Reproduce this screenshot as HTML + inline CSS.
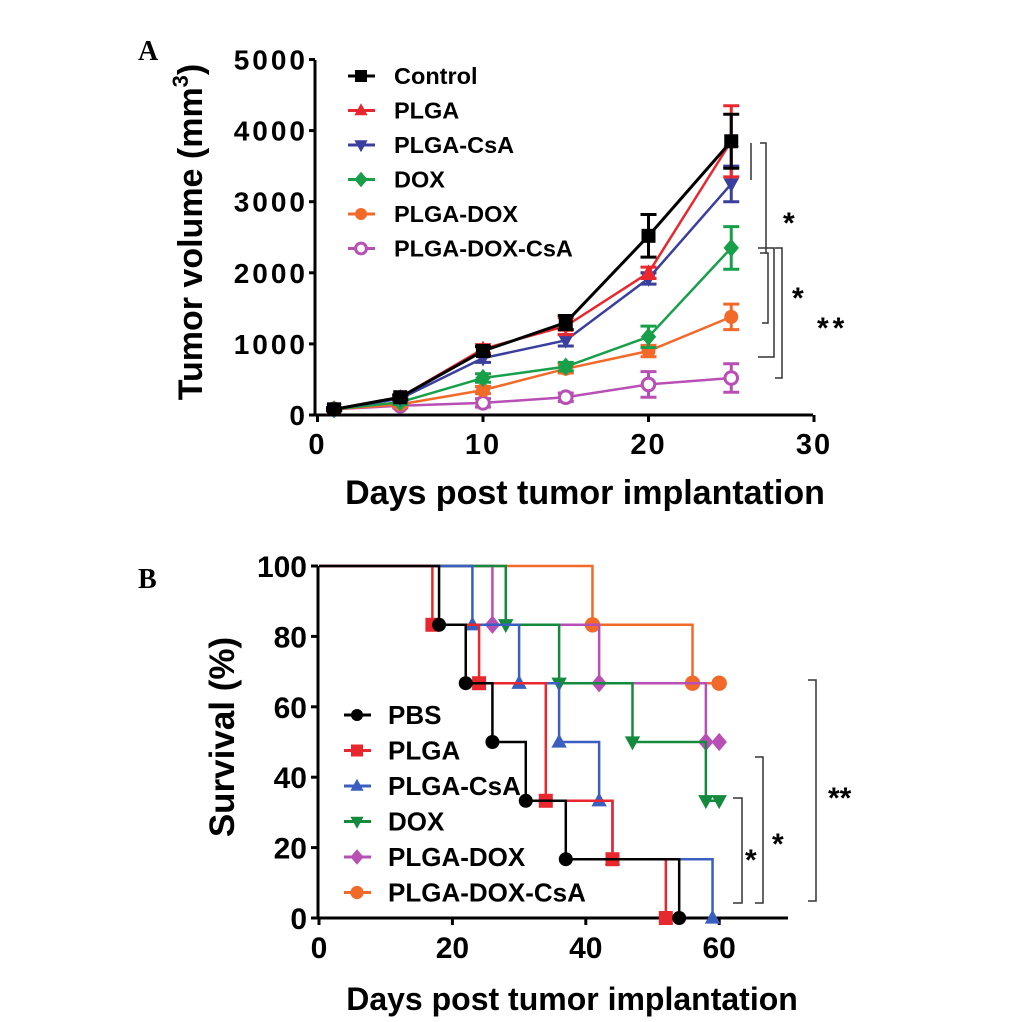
<!DOCTYPE html>
<html><head><meta charset="utf-8"><style>
body{margin:0;background:#fff}
svg{display:block;font-family:"Liberation Sans",Arial,sans-serif}
</style></head><body>
<svg id="fig" width="1033" height="1022" viewBox="0 0 1033 1022" xmlns="http://www.w3.org/2000/svg">
<rect width="1033" height="1022" fill="#fff"/>
<text x="138" y="60" font-family="Liberation Serif" font-weight="bold" font-size="28">A</text>
<text x="138" y="588" font-family="Liberation Serif" font-weight="bold" font-size="28">B</text>
<g id="A"></g>
<g id="B"></g>
</svg>
<script>
// ---- Panel A data ----
const daysA = [1, 5, 10, 15, 20, 25];
const namesA = ["Control","PLGA","PLGA-CsA","DOX","PLGA-DOX","PLGA-DOX-CsA"];
const colorsA = ["#000000","#e8282e","#3a3f9e","#17a049","#f26a2a","#b84fb5"];
const control = [80, 250, 900, 1300, 2520, 3850];
const plga = [80, 250, 930, 1250, 2000, 3850];
const plgaCsa = [80, 230, 800, 1050, 1920, 3250];
const dox = [80, 180, 520, 680, 1100, 2350];
const plgaDox = [80, 150, 350, 650, 900, 1380];
const plgaDoxCsa = [80, 130, 170, 250, 430, 520];
const errControl = [20, 30, 60, 100, 300, 380];
const errPlga = [20, 30, 60, 120, 80, 500];
const errPlgaCsa = [20, 30, 60, 80, 80, 250];
const errDox = [20, 30, 60, 60, 150, 300];
const errPlgaDox = [20, 30, 50, 60, 80, 180];
const errPlgaDoxCsa = [20, 30, 60, 60, 180, 200];
const yTicksA = [0, 1000, 2000, 3000, 4000, 5000];
const xTicksA = [0, 10, 20, 30];
// ---- Panel B data ----
const namesB = ["PBS","PLGA","PLGA-CsA","DOX","PLGA-DOX","PLGA-DOX-CsA"];
const colorsB = ["#000000","#e8282e","#3a5fc0","#138a3c","#b84fb5","#f26a2a"];
const pbsT = [18, 22, 26, 31, 37, 54];
const pbsS = [83.3, 66.7, 50, 33.3, 16.7, 0];
const plgaT = [17, 24, 34, 44, 52];
const plgaS = [83.3, 66.7, 33.3, 16.7, 0];
const plgaCsaT = [23, 30, 36, 42, 44, 59];
const plgaCsaS = [83.3, 66.7, 50, 33.3, 16.7, 0];
const doxT = [28, 36, 47, 58, 60];
const doxS = [83.3, 66.7, 50, 33.3, 33.3];
const plgaDoxT = [26, 42, 58, 60];
const plgaDoxS = [83.3, 66.7, 50, 50];
const plgaDoxCsaT = [41, 56, 60];
const plgaDoxCsaS = [83.3, 66.7, 66.7];
const yTicksB = [0, 20, 40, 60, 80, 100];
const xTicksB = [0, 20, 40, 60];

const NS = "http://www.w3.org/2000/svg";
function mk(parent, tag, attrs){const e=document.createElementNS(NS,tag);for(const k in attrs)e.setAttribute(k,attrs[k]);parent.appendChild(e);return e;}

function marker(g, shape, cx, cy, color, r){
  let e;
  if(shape==="square") e=mk(g,"rect",{x:cx-r,y:cy-r,width:2*r,height:2*r,fill:color});
  else if(shape==="up") e=mk(g,"polygon",{points:`${cx},${cy-r*1.2} ${cx-r*1.1},${cy+r*0.8} ${cx+r*1.1},${cy+r*0.8}`,fill:color});
  else if(shape==="down") e=mk(g,"polygon",{points:`${cx},${cy+r*1.2} ${cx-r*1.1},${cy-r*0.8} ${cx+r*1.1},${cy-r*0.8}`,fill:color});
  else if(shape==="diamond") e=mk(g,"polygon",{points:`${cx},${cy-r*1.3} ${cx+r*1.1},${cy} ${cx},${cy+r*1.3} ${cx-r*1.1},${cy}`,fill:color});
  else if(shape==="circle") e=mk(g,"circle",{cx:cx,cy:cy,r:r,fill:color});
  else if(shape==="ring") e=mk(g,"circle",{cx:cx,cy:cy,r:r*0.9,fill:"#fff",stroke:color,"stroke-width":3});
  else if(shape==="oct") e=mk(g,"circle",{cx:cx,cy:cy,r:r*1.1,fill:color});
  
  
  return e;
}

// ---------- Panel A ----------
(function(){
  const g=document.getElementById("A");
  const x0=317.5, xs=16.55, y0=415, ys=0.0711;
  const X=d=>x0+d*xs, Y=v=>y0-v*ys;
  const ax=mk(g,"path",{d:`M315 60 V415 H813`,stroke:"#000","stroke-width":3,fill:"none"});
  
  
  yTicksA.forEach(v=>{
    mk(g,"line",{x1:309,x2:315,y1:Y(v),y2:Y(v),stroke:"#000","stroke-width":3});
    const t=mk(g,"text",{x:308,y:Y(v)+10,"text-anchor":"end","font-size":28,"font-weight":"bold","letter-spacing":3});
    t.textContent=v;
    
    
  });
  xTicksA.forEach(v=>{
    mk(g,"line",{x1:X(v),x2:X(v),y1:415,y2:422,stroke:"#000","stroke-width":3});
    const t=mk(g,"text",{x:X(v),y:454,"text-anchor":"middle","font-size":29,"font-weight":"bold","letter-spacing":2});
    t.textContent=v;
    
    
  });
  const xt=mk(g,"text",{x:585,y:504,"text-anchor":"middle","font-size":34,"font-weight":"bold"});
  xt.textContent="Days post tumor implantation";
  
  
  const yt=mk(g,"text",{transform:"translate(202,232) rotate(-90)","text-anchor":"middle","font-size":34,"font-weight":"bold"});
  yt.innerHTML='Tumor volume (mm<tspan dy="-14" font-size="22">3</tspan><tspan dy="14">)</tspan>';
  
  
  const series=[control,plga,plgaCsa,dox,plgaDox,plgaDoxCsa];
  const errs=[errControl,errPlga,errPlgaCsa,errDox,errPlgaDox,errPlgaDoxCsa];
  const shapes=["square","up","down","diamond","circle","ring"];
  const order=[5,4,3,2,1,0];
  order.forEach(i=>{
    const sg=mk(g,"g",{});
    
    
    const c=colorsA[i];
    mk(sg,"polyline",{points:series[i].map((v,k)=>X(daysA[k])+","+Y(v)).join(" "),fill:"none",stroke:c,"stroke-width":i===0?3:2.5});
    series[i].forEach((v,k)=>{
      const x=X(daysA[k]), e=errs[i][k];
      mk(sg,"path",{d:`M${x} ${Y(v-e)} V${Y(v+e)} M${x-8} ${Y(v-e)} H${x+8} M${x-8} ${Y(v+e)} H${x+8}`,stroke:c,"stroke-width":3,fill:"none"});
      marker(sg,shapes[i],x,Y(v),c,7);
    });
  });
  namesA.forEach((n,i)=>{
    const ly=76+i*34.5;
    const lg=mk(g,"g",{});
    
    
    mk(lg,"line",{x1:348,x2:375,y1:ly,y2:ly,stroke:colorsA[i],"stroke-width":3});
    marker(lg,shapes[i],361,ly,colorsA[i],6);
    const t=mk(lg,"text",{x:394,y:ly+8,"font-size":23.5,"font-weight":"bold"});
    t.textContent=n;
  });
  const br=mk(g,"path",{d:"M751 143 V180 M760 143 H766 V253 H760 M758 248 H774 V357 H758 M775 248 H782 V378 H775 M762 253 H768 V323 H762",stroke:"#333","stroke-width":1.5,fill:"none"});
  
  
  [[778,225,"*"],[787,300,"*"],[812,330,"**"]].forEach(s=>{
    const t=mk(g,"text",{x:s[0]+5,y:s[1]+8,"font-size":30,"font-weight":"bold","letter-spacing":4});
    t.textContent=s[2];
    
    
  });
})();

// ---------- Panel B ----------
(function(){
  const g=document.getElementById("B");
  const x0=319, xs=6.67, y0=918, ys=3.52;
  const X=d=>x0+d*xs, Y=v=>y0-v*ys;
  const ax=mk(g,"path",{d:`M318 566 V918 H788`,stroke:"#000","stroke-width":3,fill:"none"});
  
  
  yTicksB.forEach(v=>{
    mk(g,"line",{x1:311,x2:318,y1:Y(v),y2:Y(v),stroke:"#000","stroke-width":3});
    const t=mk(g,"text",{x:307,y:Y(v)+11,"text-anchor":"end","font-size":30,"font-weight":"bold"});
    t.textContent=v;
    
    
  });
  xTicksB.forEach(v=>{
    mk(g,"line",{x1:X(v),x2:X(v),y1:918,y2:925,stroke:"#000","stroke-width":3});
    const t=mk(g,"text",{x:X(v),y:958,"text-anchor":"middle","font-size":30,"font-weight":"bold"});
    t.textContent=v;
    
    
  });
  const xt=mk(g,"text",{x:572,y:1010,"text-anchor":"middle","font-size":32,"font-weight":"bold"});
  xt.textContent="Days post tumor implantation";
  
  
  const yt=mk(g,"text",{transform:"translate(234,737) rotate(-90)","text-anchor":"middle","font-size":35,"font-weight":"bold"});
  yt.textContent="Survival (%)";
  
  
  const Ts=[pbsT,plgaT,plgaCsaT,doxT,plgaDoxT,plgaDoxCsaT];
  const Ss=[pbsS,plgaS,plgaCsaS,doxS,plgaDoxS,plgaDoxCsaS];
  const shapes=["circle","square","up","down","diamond","oct"];
  [5,4,3,2,1,0].forEach(i=>{
    const sg=mk(g,"g",{});
    
    
    const c=colorsB[i];
    let d=`M${X(0)} ${Y(100)}`;
    Ts[i].forEach((t,k)=>{d+=` H${X(t)} V${Y(Ss[i][k])}`;});
    mk(sg,"path",{d:d,stroke:c,"stroke-width":2.5,fill:"none"});
    Ts[i].forEach((t,k)=>marker(sg,shapes[i],X(t),Y(Ss[i][k]),c,7));
  });
  namesB.forEach((n,i)=>{
    const ly=715+i*35.5;
    const lg=mk(g,"g",{});
    
    
    mk(lg,"line",{x1:344,x2:371,y1:ly,y2:ly,stroke:colorsB[i],"stroke-width":3});
    marker(lg,shapes[i],357,ly,colorsB[i],6);
    const t=mk(lg,"text",{x:388,y:ly+9,"font-size":26,"font-weight":"bold"});
    t.textContent=n;
  });
  const br=mk(g,"path",{d:"M733 798 H742 V903 H733 M755 757 H763 V903 H755 M808 680 H816 V901 H808",stroke:"#333","stroke-width":1.5,fill:"none"});
  
  
  [[745,862,"*"],[772,846,"*"],[828,800,"**"]].forEach(s=>{
    const t=mk(g,"text",{x:s[0],y:s[1]+8,"font-size":30,"font-weight":"bold"});
    t.textContent=s[2];
    
    
  });
})();
</script>
</body></html>
